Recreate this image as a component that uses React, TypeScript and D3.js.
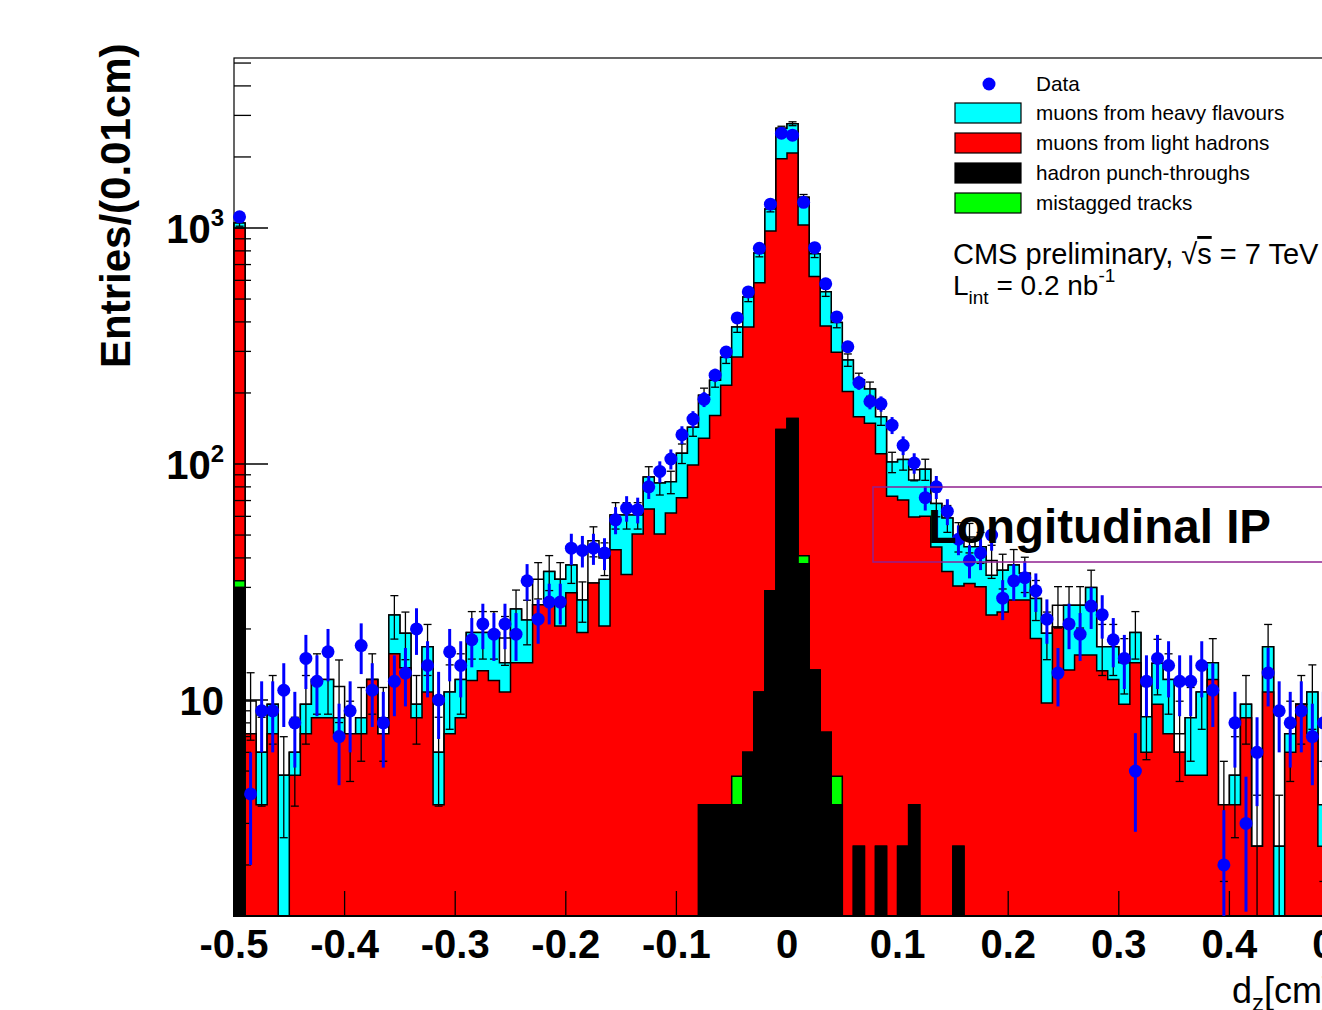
import React from 'react';
import * as d3 from 'd3';

// d_z histogram: 100 bins of 0.01 cm from -0.5 to 0.5
const binLow = -0.5;
const binWidth = 0.01;

const punchThrough = [
  30, 0, 0, 0, 0, 0, 0, 0, 0, 0,
  0, 0, 0, 0, 0, 0, 0, 0, 0, 0,
  0, 0, 0, 0, 0, 0, 0, 0, 0, 0,
  0, 0, 0, 0, 0, 0, 0, 0, 0, 0,
  0, 0, 3.6, 3.6, 3.6, 3.6, 6, 10.8, 29, 140,
  156, 37.8, 13.4, 7.3, 3.6, 0, 2.4, 0, 2.4, 0,
  2.4, 3.6, 0, 0, 0, 2.4, 0, 0, 0, 0,
  0, 0, 0, 0, 0, 0, 0, 0, 0, 0,
  0, 0, 0, 0, 0, 0, 0, 0, 0, 0,
  0, 0, 0, 0, 0, 0, 0, 0, 0, 0,
];

const mistagged = [
  2, 0, 0, 0, 0, 0, 0, 0, 0, 0,
  0, 0, 0, 0, 0, 0, 0, 0, 0, 0,
  0, 0, 0, 0, 0, 0, 0, 0, 0, 0,
  0, 0, 0, 0, 0, 0, 0, 0, 0, 0,
  0, 0, 0, 0, 0, 1.15, 0, 0, 0, 0,
  0, 3.1, 0, 0, 1.15, 0, 0, 0, 0, 0,
  0, 0, 0, 0, 0, 0, 0, 0, 0, 0,
  0, 0, 0, 0, 0, 0, 0, 0, 0, 0,
  0, 0, 0, 0, 0, 0, 0, 0, 0, 0,
  0, 0, 0, 0, 0, 0, 0, 0, 0, 0,
];

const lightHadrons = [
  968, 7.2, 3.6, 7.2, 0, 4.8, 7.2, 8.4, 8.4, 7.2,
  7.2, 7.2, 12.2, 7.2, 15.7, 13.7, 8.4, 10.8, 3.6, 7.2,
  8.4, 12.1, 13.3, 12.1, 10.8, 14.4, 14.4, 25.3, 25.3, 20.6,
  28.5, 19.3, 31.3, 20.6, 43.3, 34, 50.5, 64.5, 50.5, 62,
  72, 99, 125, 157, 212, 279, 375, 576, 943, 1826,
  1924, 989, 609, 377, 293, 203, 156, 149, 108, 73,
  68, 56, 60, 44.5, 35, 28, 31.2, 30.2, 22.9, 23.6,
  26.5, 26.5, 18.2, 9.7, 20.4, 13.4, 15.5, 15.5, 13.3, 12.2,
  9.6, 14.4, 6.0, 9.6, 7.2, 6.0, 4.8, 4.8, 12.2, 3.6,
  3.6, 8.4, 2.4, 10.8, 0, 6.0, 9.6, 7.2, 2.4, 6,
];

const heavyFlavours = [
  50, 0, 2.4, 2.4, 4.8, 1.2, 2.4, 3.8, 3.8, 1.2,
  0, 1.2, 0, 0, 7.2, 5.5, 1.2, 6.0, 2.4, 3.6,
  3.8, 7.2, 6.0, 7.2, 3.6, 9.9, 7.4, 0, 9.7, 11.9,
  8.8, 7.2, 0, 11.9, 17.5, 26.8, 10.3, 23.5, 32.5, 22,
  39, 44, 67, 66, 68, 97, 129, 196, 233, 681,
  686, 320, 155, 152, 100, 73, 69, 59, 48, 29,
  34, 26, 35, 23.5, 24, 19, 13.4, 14.4, 10.9, 11.9,
  10.8, 7.9, 8.7, 9.5, 0, 11.8, 9.7, 14.5, 3.5, 4.6,
  4.8, 4.9, 2.5, 4.7, 5.0, 0, 3.6, 6.0, 2.2, 0,
  1.2, 1.2, 0, 6.0, 2.4, 1.2, 0, 3.6, 1.2, 2,
];

// unlabelled top component of the stack (white fill)
const otherMC = [
  0, 2.7, 0, 0, 0, 0, 0, 0, 0, 3.0,
  0, 0, 0, 1.2, 0, 0, 0, 0, 0, 0,
  0, 0, 0, 0, 3.9, 0, 0, 7.2, 0, 0,
  0, 0, 16, 7.5, 0, 0, 0, 0, 0, 0,
  0, 0, 0, 0, 0, 0, 0, 0, 0, 0,
  0, 0, 0, 0, 0, 0, 0, 0, 0, 0,
  0, 9, 0, 0, 0, 0, 4.4, 0, 5.2, 0,
  0, 0, 0, 0, 4.8, 0, 0, 0, 0, 0,
  0, 0, 0, 0, 0, 1.2, 0, 0, 0, 0,
  0, 0, 0, 0, 0, 0, 0, 0, 0, 0,
];

const dataCounts = [
  1115, 4, 9, 9, 11, 8, 15, 12, 16, 7,
  9, 17, 11, 8, 12, 13, 20, 14, 10, 16,
  14, 18, 21, 19, 21, 19, 32, 22, 26, 26,
  44, 43, 44, 42, 58, 65, 64, 80, 93, 105,
  133, 155, 188, 238, 298, 416, 536, 820, 1262, 2520,
  2473, 1285, 825, 580, 420, 314, 221, 184, 180, 146,
  120, 101, 72, 80, 63, 48, 39, 42, 50, 27,
  32, 33, 29, 22, 13, 21, 19, 25, 23, 18,
  15, 5, 12, 15, 14, 12, 12, 14, 11, 2,
  8, 3, 6, 13, 9, 8, 9, 7, 8, 9,
];

const xTickValues = [-0.5, -0.4, -0.3, -0.2, -0.1, 0, 0.1, 0.2, 0.3, 0.4, 0.5];
const yMajorTicks = [10, 100, 1000];
const yTickExponents = ['', '2', '3'];

const legendItems = [
  { label: 'muons from heavy flavours', color: '#00ffff' },
  { label: 'muons from light hadrons', color: '#ff0000' },
  { label: 'hadron punch-throughs', color: '#000000' },
  { label: 'mistagged tracks', color: '#00ff00' },
];

const FONT = "'Liberation Sans', Arial, Helvetica, sans-serif";

export default function App() {
  const W = 1322;
  const H = 1010;
  const x = d3.scaleLinear().domain([-0.5, 0.5]).range([234, 1340]);
  const y = d3.scaleLog().domain([1.2155, 5252]).range([916, 58]).clamp(true);
  const y0 = y.range()[0];
  const n = dataCounts.length;
  const edges = d3.range(n + 1).map((i) => binLow + i * binWidth);

  const rows = d3.range(n).map((i) => ({
    black: punchThrough[i],
    green: mistagged[i],
    red: lightHadrons[i],
    cyan: heavyFlavours[i],
    other: otherMC[i],
  }));
  const keys = ['black', 'green', 'red', 'cyan', 'other'];
  const stacked = d3.stack<any>().keys(keys)(rows);
  const tops = stacked.map((layer) => layer.map((d) => d[1]));

  const yv = (v: number) => (v > y.domain()[0] ? y(v) : y0);

  const stepPath = (vals: number[]) => {
    let d = `M${x(edges[0])},${y0}`;
    for (let i = 0; i < n; i++) {
      const yy = yv(vals[i]);
      d += `L${x(edges[i])},${yy}L${x(edges[i + 1])},${yy}`;
    }
    d += `L${x(edges[n])},${y0}Z`;
    return d;
  };

  const fills = ['#000000', '#00ff00', '#ff0000', '#00ffff', '#ffffff'];
  const drawOrder = [4, 3, 2, 1, 0];
  const total = tops[4];

  const minorTicks: number[] = [];
  [1, 10, 100, 1000].forEach((dec) => {
    for (let k = 2; k <= 9; k++) {
      const v = k * dec;
      if (v > y.domain()[0] && v < y.domain()[1]) minorTicks.push(v);
    }
  });

  const center = (i: number) => x(edges[i] + binWidth / 2);

  return (
    <svg
      width={W}
      height={H}
      style={{ position: 'absolute', left: 0, top: 0, background: '#fff' }}
      fontFamily={FONT}
    >
      <rect x={0} y={0} width={W} height={H} fill="#fff" />
      {/* stacked histograms */}
      {drawOrder.map((k) => (
        <path
          key={keys[k]}
          d={stepPath(tops[k])}
          fill={fills[k]}
          stroke="#000"
          strokeWidth={1.5}
          strokeLinejoin="miter"
        />
      ))}
      {/* MC statistical errors */}
      {total.map((t, i) => {
        if (t <= 0) return null;
        const e = Math.sqrt(t);
        const cx = center(i);
        const yHi = yv(t + e);
        const yLo = yv(t - e);
        return (
          <g key={'mce' + i} stroke="#000" strokeWidth={1.3}>
            <line x1={cx} x2={cx} y1={yHi} y2={yLo} />
            <line x1={cx - 4} x2={cx + 4} y1={yHi} y2={yHi} />
            {yLo < y0 - 1 && <line x1={cx - 4} x2={cx + 4} y1={yLo} y2={yLo} />}
          </g>
        );
      })}
      {/* frame */}
      <rect x={234} y={58} width={1340 - 234} height={916 - 58} fill="none" stroke="#000" strokeWidth={1.2} />
      {/* y ticks */}
      {yMajorTicks.map((v) => (
        <line key={'ym' + v} x1={234} x2={268} y1={y(v)} y2={y(v)} stroke="#000" strokeWidth={1.3} />
      ))}
      {minorTicks.map((v) => (
        <line key={'yn' + v} x1={234} x2={251} y1={y(v)} y2={y(v)} stroke="#000" strokeWidth={1.3} />
      ))}
      {yMajorTicks.map((v, i) => (
        <text key={'yl' + v} x={224} y={y(v) + 15} textAnchor="end" fontSize={40} fontWeight="bold">
          10
          {yTickExponents[i] && (
            <tspan fontSize={24} dy={-17}>
              {yTickExponents[i]}
            </tspan>
          )}
        </text>
      ))}
      {/* x ticks */}
      {xTickValues.map((v) => (
        <line key={'xt' + v} x1={x(v)} x2={x(v)} y1={916} y2={891} stroke="#000" strokeWidth={1.3} />
      ))}
      {xTickValues.map((v) => (
        <text key={'xl' + v} x={x(v)} y={958} textAnchor="middle" fontSize={40} fontWeight="bold">
          {v === 0 ? '0' : v.toFixed(1)}
        </text>
      ))}
      {/* axis titles */}
      <text
        transform="translate(130,368) rotate(-90)"
        fontSize={42}
        fontWeight="bold"
        textAnchor="start"
      >
        Entries/(0.01cm)
      </text>
      <text x={1232} y={1003} fontSize={36}>
        d<tspan fontSize={24} dy={8}>z</tspan>
        <tspan dy={-8}>[cm]</tspan>
      </text>
      {/* data */}
      {dataCounts.map((c, i) => {
        const cx = center(i);
        const e = Math.sqrt(c);
        return (
          <g key={'d' + i}>
            <line x1={cx} x2={cx} y1={yv(c + e)} y2={yv(c - e)} stroke="#0000ff" strokeWidth={3} />
            <circle cx={cx} cy={yv(c)} r={6.5} fill="#0000ff" />
          </g>
        );
      })}
      {/* legend */}
      <circle cx={989} cy={84} r={6.5} fill="#0000ff" />
      <text x={1036} y={91} fontSize={20.7}>Data</text>
      {legendItems.map((it, i) => (
        <g key={it.label}>
          <rect x={955} y={103 + i * 30} width={66} height={20} fill={it.color} stroke="#000" strokeWidth={1.2} />
          <text x={1036} y={120 + i * 30} fontSize={20.7}>
            {it.label}
          </text>
        </g>
      ))}
      <text x={953} y={264} fontSize={29}>
        CMS preliminary, √<tspan style={{ textDecoration: 'overline' }}>s</tspan> = 7 TeV
      </text>
      <text x={953} y={295} fontSize={28}>
        L<tspan fontSize={19} dy={9}>int</tspan>
        <tspan dy={-9}> = 0.2 nb</tspan>
        <tspan fontSize={19} dy={-13}>-1</tspan>
      </text>
      {/* annotation box */}
      <rect x={873} y={487} width={520} height={75} fill="none" stroke="#902090" strokeWidth={1.5} />
      <text x={928} y={543} fontSize={47.5} fontWeight="bold">
        Longitudinal IP
      </text>
    </svg>
  );
}
